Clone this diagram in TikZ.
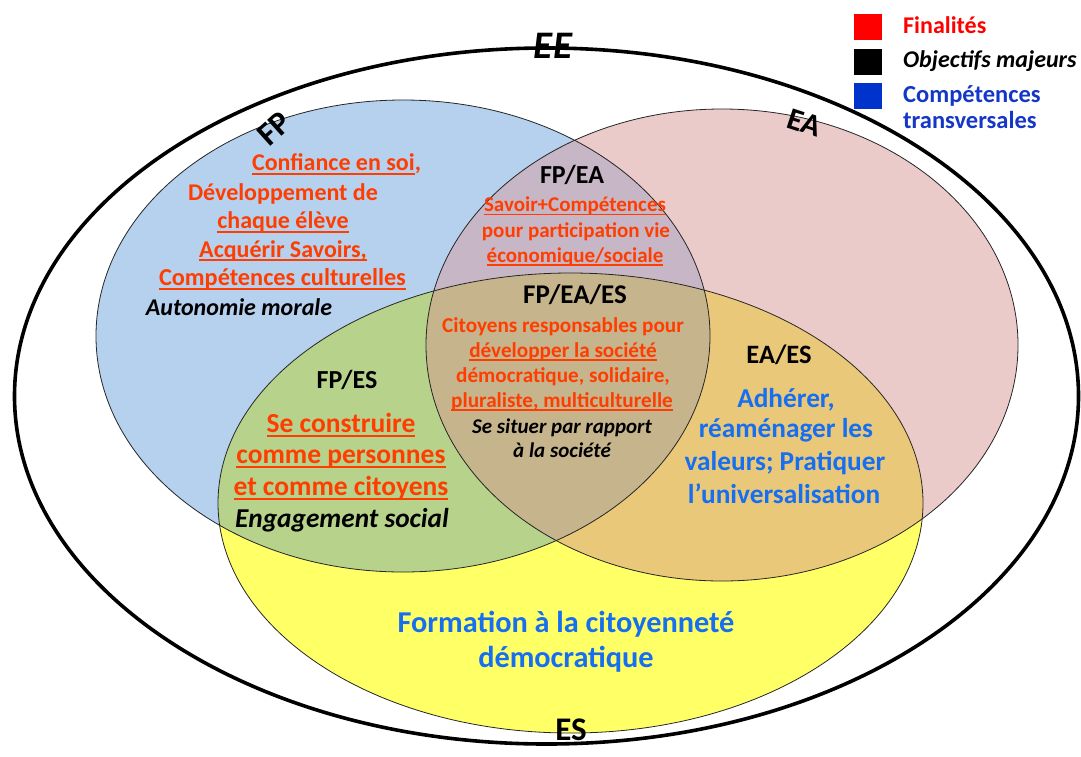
\documentclass[tikz,border=0pt]{standalone}
\usepackage{fontspec}
\setmainfont{Carlito}
\definecolor{fpblue}{RGB}{181,209,238}
\definecolor{eapink}{RGB}{235,202,202}
\definecolor{esyellow}{RGB}{255,255,102}
\definecolor{fpea}{RGB}{199,182,198}
\definecolor{fpes}{RGB}{182,210,139}
\definecolor{eaes}{RGB}{234,200,122}
\definecolor{fpeaes}{RGB}{198,180,140}
\definecolor{redtxt}{RGB}{255,61,0}
\definecolor{bluetxt}{RGB}{22,110,240}
\definecolor{legred}{RGB}{255,0,0}
\definecolor{legblue}{RGB}{0,51,204}
\definecolor{legbluetxt}{RGB}{20,55,200}
\newcommand\myul[1]{\leavevmode\sbox0{#1}\rlap{\rule[-0.17em]{\wd0}{0.075em}}\usebox0}
\newcommand\fs[1]{\fontsize{#1}{#1}\selectfont}
\tikzset{
  txt/.style={anchor=base, inner sep=0pt, font=\bfseries},
  red/.style={text=redtxt},
  blu/.style={text=bluetxt},
  legsq/.style={minimum width=28pt, minimum height=26pt, inner sep=0pt},
  thinring/.style={draw=black!85, line width=0.8pt},
}
\begin{document}
\begin{tikzpicture}[x=1pt,y=-1pt]
\useasboundingbox (0,0) rectangle (1081,756);
% outer ellipse
\draw[line width=3.6pt] (546.5,396) ellipse [x radius=532pt, y radius=348pt];
% base fills
\fill[fpblue] (403,336) ellipse [x radius=307pt, y radius=236pt];
\fill[eapink] (722,345) ellipse [x radius=296pt, y radius=236pt];
\fill[esyellow] (570.5,503) ellipse [x radius=352.5pt, y radius=230pt];
% pairwise overlaps
\begin{scope}
  \clip (403,336) ellipse [x radius=307pt, y radius=236pt];
  \fill[fpea] (722,345) ellipse [x radius=296pt, y radius=236pt];
  \fill[fpes] (570.5,503) ellipse [x radius=352.5pt, y radius=230pt];
\end{scope}
\begin{scope}
  \clip (722,345) ellipse [x radius=296pt, y radius=236pt];
  \fill[eaes] (570.5,503) ellipse [x radius=352.5pt, y radius=230pt];
  \clip (403,336) ellipse [x radius=307pt, y radius=236pt];
  \fill[fpeaes] (570.5,503) ellipse [x radius=352.5pt, y radius=230pt];
\end{scope}
% outlines
\draw[thinring] (403,336) ellipse [x radius=307pt, y radius=236pt];
\draw[thinring] (722,345) ellipse [x radius=296pt, y radius=236pt];
\draw[thinring] (570.5,503) ellipse [x radius=352.5pt, y radius=230pt];

% set labels
\node[txt, font=\fs{39}\bfseries\itshape] (lEE) at (553,58) {EE};
\node[txt, anchor=center, rotate=42, font=\fs{33}\bfseries] (lFP) at (274,129) {FP};
\node[txt, anchor=center, rotate=-18, font=\fs{31}\bfseries] (lEA) at (805,123) {EA};
\node[txt, font=\fs{33}\bfseries] (lES) at (571,740) {ES};

% legend
\node[legsq, fill=legred] (sqR) at (868,26.5) {};
\node[legsq, fill=black] (sqK) at (868,62) {};
\node[legsq, fill=legblue] (sqB) at (868,96) {};
\node[txt, anchor=base west, text=legred, font=\fs{24}\bfseries] (tR) at (903,33) {Finalités};
\node[txt, anchor=base west, font=\fs{24}\bfseries\itshape] (tK) at (903,67) {Objectifs majeurs};
\node[txt, anchor=base west, text=legbluetxt, font=\fs{24.5}\bfseries] (tB1) at (903,102) {Compétences};
\node[txt, anchor=base west, text=legbluetxt, font=\fs{24.5}\bfseries] (tB2) at (903,128) {transversales};

% FP
\node[txt, red, font=\fs{24}\bfseries] (fp1) at (336.5,170.5) {\myul{Confiance en soi},};
\node[txt, red, font=\fs{24}\bfseries] (fp2) at (283,200) {Développement de};
\node[txt, red, font=\fs{24}\bfseries] (fp3) at (283,228.5) {\myul{chaque élève}};
\node[txt, red, font=\fs{24}\bfseries] (fp4) at (283,257) {\myul{Acquérir Savoirs,}};
\node[txt, red, font=\fs{24.3}\bfseries] (fp5) at (282.5,285.5) {\myul{Compétences culturelles}};
\node[txt, font=\fs{24}\bfseries\itshape] (fp6) at (239,315) {Autonomie morale};

% FP/EA
\node[txt, font=\fs{26}\bfseries] (fpeaT) at (572,183) {FP/EA};
\node[txt, red, font=\fs{21}\bfseries] (fpea1) at (575,211.5) {\myul{Savoir+Compétences}};
\node[txt, red, font=\fs{21}\bfseries] (fpea2) at (576,237) {pour participation vie};
\node[txt, red, font=\fs{21}\bfseries] (fpea3) at (575,262) {\myul{économique/sociale}};

% FP/EA/ES
\node[txt, font=\fs{27}\bfseries] (allT) at (575,303) {FP/EA/ES};
\node[txt, red, font=\fs{21.2}\bfseries] (all1) at (563,332) {Citoyens responsables pour};
\node[txt, red, font=\fs{21.2}\bfseries] (all2) at (563,357) {\myul{développer la société}};
\node[txt, red, font=\fs{21.2}\bfseries] (all3) at (563,382) {démocratique, solidaire,};
\node[txt, red, font=\fs{21.2}\bfseries] (all4) at (562,407) {\myul{pluraliste, multiculturelle}};
\node[txt, font=\fs{21}\bfseries\itshape] (all5) at (562,433) {Se situer par rapport};
\node[txt, font=\fs{21}\bfseries\itshape] (all6) at (562,457) {à la société};

% FP/ES
\node[txt, font=\fs{26}\bfseries] (fpesT) at (347,388) {FP/ES};
\node[txt, red, font=\fs{27.5}\bfseries] (fpes1) at (341,432) {\myul{Se construire}};
\node[txt, red, font=\fs{27.5}\bfseries] (fpes2) at (341,463) {\myul{comme personnes}};
\node[txt, red, font=\fs{27.5}\bfseries] (fpes3) at (341,495) {\myul{et comme citoyens}};
\node[txt, font=\fs{27.3}\bfseries\itshape] (fpes4) at (342,527) {Engagement social};

% EA/ES
\node[txt, font=\fs{26.5}\bfseries] (eaesT) at (779,363) {EA/ES};
\node[txt, blu, font=\fs{27.3}\bfseries] (eaes1) at (786,407) {Adhérer,};
\node[txt, blu, font=\fs{27.3}\bfseries] (eaes2) at (786,437) {réaménager les};
\node[txt, blu, font=\fs{27.3}\bfseries] (eaes3) at (785,470) {valeurs; Pratiquer};
\node[txt, blu, font=\fs{27.3}\bfseries] (eaes4) at (784,503) {l’universalisation};

% ES
\node[txt, blu, font=\fs{30.3}\bfseries] (es1) at (566,632) {Formation à la citoyenneté};
\node[txt, blu, font=\fs{30.3}\bfseries] (es2) at (566,667) {démocratique};
\end{tikzpicture}
\end{document}
